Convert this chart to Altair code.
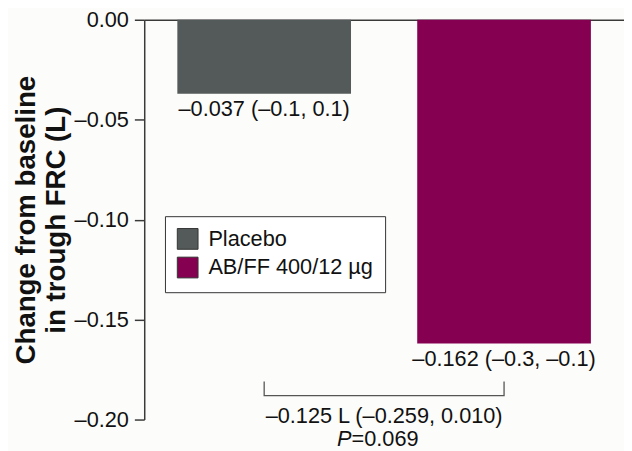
import altair as alt
import pandas as pd

# ---- data ----
groups = ["Placebo", "AB/FF 400/12 µg"]
means = [-0.037, -0.162]
ci_labels = ["–0.037 (–0.1, 0.1)", "–0.162 (–0.3, –0.1)"]
bar_colors = ["#545a59", "#860052"]
bracket_y = [-0.181, -0.188]          # top / bottom of comparison bracket
diff_label = "–0.125 L (–0.259, 0.010)"
p_value = "=0.069"
y_ticks = [0.0, -0.05, -0.10, -0.15, -0.20]

half_w = 0.362  # half bar width in x units (category i sits at i+0.5)

pos = [i + 0.5 for i in range(len(groups))]
bars = pd.DataFrame({"group": groups, "mean": means, "label": ci_labels,
                     "x": [p - half_w for p in pos], "x2": [p + half_w for p in pos], "pos": pos})

bracket = pd.DataFrame({
    "pos": [pos[0], pos[0], pos[1], pos[1]],
    "y": [bracket_y[0], bracket_y[1], bracket_y[1], bracket_y[0]],
    "order": [0, 1, 2, 3],
})
mid = pd.DataFrame({"pos": [sum(pos) / 2], "y": [bracket_y[1]], "t": [diff_label], "p": ["P"], "pv": [p_value]})

FONT = "Liberation Sans"
AX = "#3a3a3a"
FS = 22

xscale = alt.Scale(domain=[0, 2], nice=False, zero=False)
yscale = alt.Scale(domain=[-0.2, 0], nice=False, zero=False)

xaxis = alt.Axis(orient="top", labels=False, ticks=False, grid=False, title=None,
                 domainColor=AX, domainWidth=1.5)
yaxis = alt.Axis(values=y_ticks, format=".2f", grid=False, tickSize=10, tickColor=AX, tickWidth=1.5,
                 domainColor=AX, domainWidth=1.5, labelFontSize=FS, labelColor="#111",
                 labelPadding=6, labelFont=FONT,
                 title=["Change from baseline", "in trough FRC (L)"], titleFontSize=28,
                 titleFont=FONT, titleFontWeight="bold", titleColor="#111", titlePadding=4,
                 titleLineHeight=30, labelExpr="replace(datum.label, '−', '–')")

rects = alt.Chart(bars).mark_rect().encode(
    x=alt.X("x:Q", scale=xscale, axis=xaxis),
    x2="x2:Q",
    y=alt.Y("mean:Q", scale=yscale, axis=yaxis),
    y2=alt.datum(0),
    color=alt.Color("group:N", sort=groups,
                    scale=alt.Scale(domain=groups, range=bar_colors),
                    legend=alt.Legend(title=None, orient="none", legendX=21, legendY=199,
                                      symbolType="square", symbolSize=441,
                                      symbolStrokeColor="#333", symbolStrokeWidth=1,
                                      symbolOpacity=1, labelFontSize=FS, labelFont=FONT,
                                      labelColor="#111", labelOffset=10, rowPadding=3,
                                      padding=12, strokeColor="#333", fillColor="#ffffff",
                                      labelLimit=400)),
)

bar_text = alt.Chart(bars).mark_text(baseline="top", dy=6, fontSize=FS, font=FONT, color="#111").encode(
    x=alt.X("pos:Q", scale=xscale), y=alt.Y("mean:Q", scale=yscale), text="label:N")

br = alt.Chart(bracket).mark_line(color="#555", strokeWidth=1.3).encode(
    x=alt.X("pos:Q", scale=xscale), y=alt.Y("y:Q", scale=yscale), order="order:Q")

diff_text = alt.Chart(mid).mark_text(baseline="top", dy=11, fontSize=FS, font=FONT, color="#111").encode(
    x=alt.X("pos:Q", scale=xscale), y=alt.Y("y:Q", scale=yscale), text="t:N")
p_text = alt.Chart(mid).mark_text(baseline="top", dy=34, dx=-33, align="right", fontSize=FS, font=FONT,
                                  fontStyle="italic", color="#111").encode(
    x=alt.X("pos:Q", scale=xscale), y=alt.Y("y:Q", scale=yscale), text="p:N")
pv_text = alt.Chart(mid).mark_text(baseline="top", dy=34, dx=-33, align="left", fontSize=FS, font=FONT,
                                   color="#111").encode(
    x=alt.X("pos:Q", scale=xscale), y=alt.Y("y:Q", scale=yscale), text="pv:N")

chart = alt.layer(rects, bar_text, br, diff_text, p_text, pv_text).properties(
    width=486, height=405,
    autosize=alt.AutoSizeParams(type="none"),
    padding={"left": 138, "top": 9, "right": 0, "bottom": 32},
    background="#fcfcfa",
).configure_view(stroke=None)

chart.save("out.html", embed_options={"renderer": "svg", "actions": False})
